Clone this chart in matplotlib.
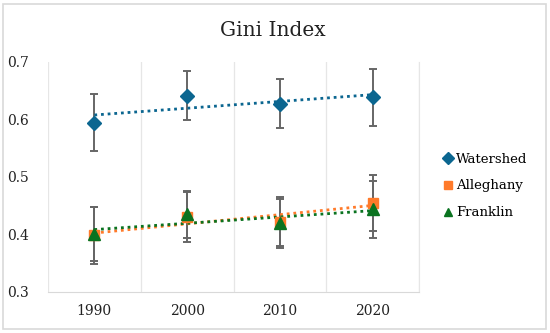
import matplotlib
matplotlib.use("Agg")
import matplotlib.pyplot as plt
from matplotlib.lines import Line2D
from matplotlib.patches import Rectangle
import numpy as np

years = ["1990", "2000", "2010", "2020"]

watershed = [0.594, 0.641, 0.627, 0.638]
watershed_err = [0.050, 0.043, 0.043, 0.050]

alleghany = [0.398, 0.430, 0.422, 0.454]
alleghany_err = [0.050, 0.044, 0.043, 0.049]

franklin = [0.401, 0.435, 0.419, 0.443]
franklin_err = [0.047, 0.041, 0.043, 0.049]

series = [
    ("Watershed", watershed, watershed_err, "#0b6690", "D", 7),
    ("Alleghany", alleghany, alleghany_err, "#ff7a2a", "s", 7.5),
    ("Franklin", franklin, franklin_err, "#0a7320", "^", 8.5),
]

plt.rcParams["font.family"] = ["DejaVu Serif"]

fig = plt.figure(figsize=(5.5, 3.33), dpi=100)
ax = fig.add_axes([48 / 550, 1 - 291.7 / 333, 371 / 550, 230 / 333])

x = np.arange(1, len(years) + 1)

# grey border round the whole chart
fig.patches.append(Rectangle((3 / 550, 4 / 333), 543 / 550, 325 / 333,
                             transform=fig.transFigure, fill=False,
                             edgecolor="#d9d9d9", linewidth=1.2))

handles = []
for name, vals, err, col, mk, ms in series:
    ax.errorbar(x, vals, yerr=err, fmt="none", ecolor="#666666",
                elinewidth=1.4, capsize=3.2, capthick=1.4, zorder=2)
    # linear trendline
    k, b = np.polyfit(x, vals, 1)
    ax.plot(x, k * x + b, color=col, linestyle=(0, (1, 1.4)),
            linewidth=2, zorder=3)
    ax.plot(x, vals, linestyle="none", marker=mk, markersize=ms,
            color=col, zorder=4)
    handles.append(Line2D([], [], linestyle="none", marker=mk, color=col,
                          markersize=6))

ax.set_xlim(0.5, 4.5)
ax.set_ylim(0.3, 0.7)
ax.set_yticks([0.3, 0.4, 0.5, 0.6, 0.7])
ax.set_yticklabels(["0.3", "0.4", "0.5", "0.6", "0.7"])
ax.set_xticks(x)
ax.set_xticklabels(years)
ax.set_xticks(np.arange(0.5, 5, 1), minor=True)
ax.grid(True, which="minor", axis="x", color="#e6e6e6", linewidth=0.9)
ax.tick_params(axis="both", which="both", length=0, labelsize=10,
               colors="#222222")
ax.tick_params(axis="y", pad=14)
ax.tick_params(axis="x", pad=9)

for s in ["top", "left"]:
    ax.spines[s].set_visible(False)
ax.spines["bottom"].set_color("#d9d9d9")
ax.spines["right"].set_color("#e6e6e6")

fig.text(273 / 550, 1 - 31 / 333, "Gini Index", ha="center", va="center",
         fontsize=14.5, color="#222222")

fig.legend(handles, [s[0] for s in series], loc="center left",
           bbox_to_anchor=(432 / 550, 1 - 186 / 333), frameon=False,
           fontsize=9.5, handlelength=0.7, handletextpad=0.25,
           labelspacing=1.05)

fig.savefig("out.png", dpi=100)
